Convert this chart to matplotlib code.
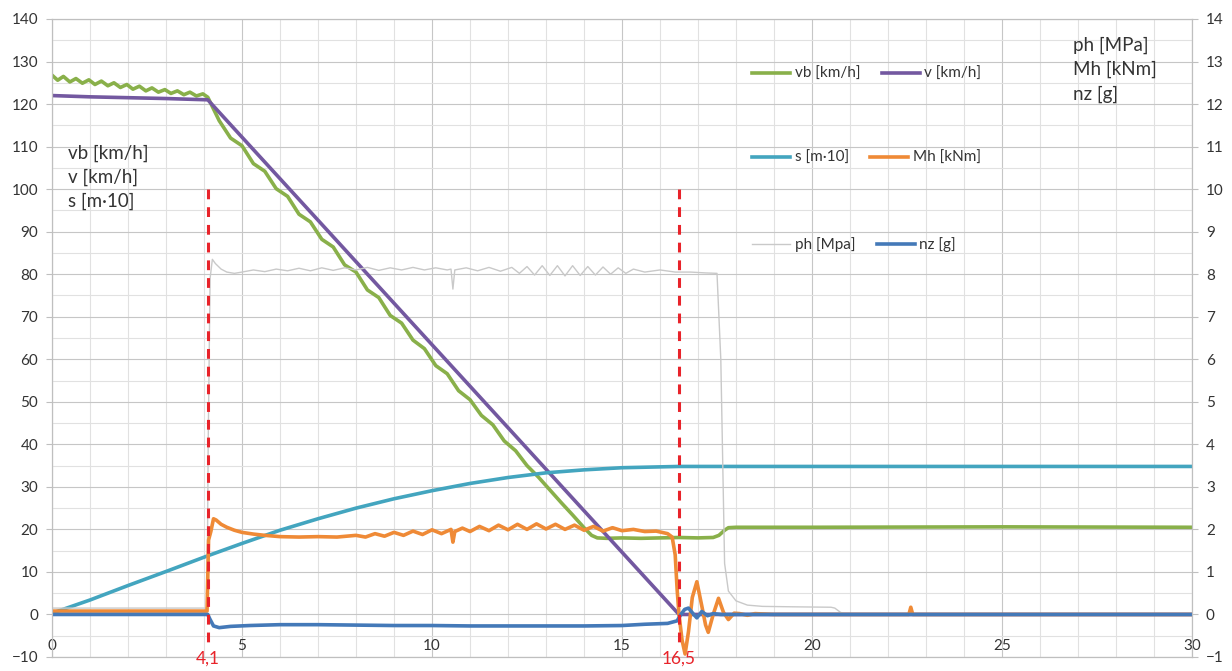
import matplotlib
matplotlib.use("Agg")
import matplotlib.pyplot as plt
from matplotlib.lines import Line2D
from matplotlib.transforms import blended_transform_factory

plt.rcParams['font.family'] = ['Lato', 'DejaVu Sans']

# --- data ---
# left axis: vb [km/h], v [km/h], s [m*10]
vb_t = [0.00, 0.15, 0.30, 0.47, 0.63, 0.80, 0.97, 1.13, 1.30, 1.47, 1.63, 1.80, 1.97,
        2.13, 2.30, 2.47, 2.63, 2.80, 2.97, 3.13, 3.30, 3.47, 3.63, 3.80, 3.97, 4.10,
        4.4, 4.7, 5.0, 5.3, 5.6, 5.9, 6.2, 6.5, 6.8, 7.1, 7.4, 7.7, 8.0, 8.3, 8.6, 8.9,
        9.2, 9.5, 9.8, 10.1, 10.4, 10.7, 11.0, 11.3, 11.6, 11.9, 12.2, 12.5, 12.8, 13.1,
        13.4, 13.7, 14.0, 14.2, 14.35, 14.6, 15.0, 15.5, 16.0, 16.5, 17.0, 17.4, 17.55,
        17.7, 17.8, 18.0, 20.0, 25.0, 30.0]
vb_v = [126.8, 125.6, 126.5, 125.2, 126.0, 124.9, 125.7, 124.6, 125.4, 124.3, 125.0, 123.9, 124.6,
        123.5, 124.2, 123.1, 123.8, 122.8, 123.4, 122.5, 123.1, 122.2, 122.8, 121.9, 122.4, 121.6,
        116.1, 112.0, 110.2, 106.0, 104.2, 100.1, 98.3, 94.1, 92.3, 88.2, 86.4, 82.2, 80.5, 76.3, 74.5, 70.3,
        68.5, 64.5, 62.5, 58.5, 56.6, 52.6, 50.5, 46.8, 44.6, 40.8, 38.5, 35.0, 32.3, 29.3,
        26.3, 23.4, 20.4, 18.6, 18.0, 17.9, 18.0, 17.9, 18.0, 18.1, 18.0, 18.1, 18.6,
        19.8, 20.4, 20.5, 20.5, 20.6, 20.5]

v_t = [0, 1, 2, 3, 4.1, 16.5, 30]
v_v = [122.0, 121.7, 121.5, 121.3, 121.0, 0.0, 0.0]

s_t = [0, 1, 2, 3, 4.1, 5, 6, 7, 8, 9, 10, 11, 12, 13, 14, 15, 16, 16.5, 30]
s_v = [0.3, 3.4, 6.8, 10.1, 13.8, 16.7, 19.8, 22.5, 25.0, 27.2, 29.1, 30.8, 32.2,
       33.3, 34.0, 34.5, 34.7, 34.8, 34.8]

# right axis: ph [MPa], Mh [kNm], nz [g]
ph_t = [0, 4.08, 4.11, 4.16, 4.22, 4.3, 4.45, 4.6, 4.8, 5.0, 5.3, 5.6, 5.9, 6.2, 6.5, 6.8,
        7.1, 7.4, 7.7, 8.0, 8.3, 8.6, 8.9, 9.2, 9.5, 9.8, 10.1, 10.4, 10.5, 10.55, 10.6,
        10.9, 11.2, 11.5, 11.8, 12.1, 12.3, 12.5, 12.7, 12.9, 13.1, 13.3, 13.5, 13.7, 13.9,
        14.1, 14.3, 14.5, 14.7, 14.9, 15.1, 15.3, 15.6, 16.0, 16.4, 16.8, 17.2, 17.5, 17.6,
        17.7, 17.8, 18.0, 18.3, 18.7, 19.5, 20.5, 20.6, 20.75, 20.9, 30]
ph_v = [0.15, 0.15, 4.0, 7.9, 8.35, 8.25, 8.12, 8.05, 8.02, 8.05, 8.1, 8.06, 8.12, 8.08, 8.14, 8.08,
        8.15, 8.09, 8.15, 8.1, 8.16, 8.09, 8.15, 8.1, 8.16, 8.1, 8.15, 8.1, 8.12, 7.65, 8.1,
        8.15, 8.08, 8.16, 8.07, 8.16, 8.02, 8.18, 7.98, 8.2, 7.97, 8.2, 7.96, 8.2, 7.97,
        8.18, 7.98, 8.17, 8.0, 8.15, 8.02, 8.12, 8.05, 8.1, 8.05, 8.05, 8.03, 8.02, 6.0,
        1.2, 0.55, 0.32, 0.22, 0.19, 0.18, 0.17, 0.15, 0.05, 0.0, 0.0]

mh_t = [0, 4.08, 4.12, 4.18, 4.25, 4.32, 4.45, 4.6, 4.8, 5.0, 5.3, 5.6, 6.0, 6.5, 7.0, 7.5,
        8.0, 8.25, 8.5, 8.75, 9.0, 9.25, 9.5, 9.75, 10.0, 10.25, 10.5, 10.55, 10.6, 10.8,
        11.0, 11.25, 11.5, 11.75, 12.0, 12.25, 12.5, 12.75, 13.0, 13.25, 13.5, 13.75, 14.0,
        14.25, 14.5, 14.75, 15.0, 15.3, 15.6, 15.9, 16.2, 16.32, 16.4, 16.45, 16.5, 16.58,
        16.66, 16.75, 16.85, 16.97, 17.1, 17.2, 17.27, 17.4, 17.54, 17.67, 17.8, 17.95,
        18.1, 18.3, 18.5, 19.0, 22.55, 22.6, 22.65, 30]
mh_v = [0.08, 0.08, 1.75, 1.95, 2.25, 2.22, 2.12, 2.05, 1.98, 1.93, 1.89, 1.86, 1.83, 1.82, 1.83, 1.82,
        1.86, 1.82, 1.9, 1.84, 1.93, 1.86, 1.96, 1.88, 1.99, 1.9, 2.0, 1.7, 1.95, 2.03,
        1.95, 2.07, 1.97, 2.1, 1.99, 2.12, 2.0, 2.13, 2.01, 2.12, 2.0, 2.1, 1.98,
        2.07, 1.96, 2.04, 1.97, 2.0, 1.95, 1.96, 1.9, 1.82, 1.4, 0.6, 0.0, -0.6,
        -0.93, -0.4, 0.4, 0.77, 0.2, -0.25, -0.42, 0.0, 0.38, 0.05, -0.12, 0.03,
        0.02, -0.02, 0.02, 0.0, 0.0, 0.17, 0.0, 0.0]

nz_t = [0, 4.1, 4.15, 4.25, 4.4, 4.7, 5.2, 6.0, 7.0, 8.0, 9.0, 10.0, 11.0, 12.0, 13.0, 14.0,
        15.0, 15.6, 16.2, 16.45, 16.55, 16.65, 16.75, 16.87, 16.97, 17.1, 17.25, 17.4, 17.6, 30]
nz_v = [0.0, 0.0, -0.1, -0.27, -0.31, -0.28, -0.26, -0.24, -0.24, -0.25, -0.26, -0.26, -0.27, -0.27,
        -0.27, -0.27, -0.26, -0.23, -0.21, -0.15, 0.0, 0.12, 0.15, 0.02, -0.08, 0.07, -0.03, 0.02, 0.0, 0.0]

marks = [4.1, 16.5]
mark_labels = ["4,1", "16,5"]

green = '#89b04a'
purple = '#7358a0'
teal = '#43a5bf'
orange = '#ef8a36'
blue = '#4479b8'
grey = '#c9c9c9'
red = '#e8232a'
txt = '#333333'

fig = plt.figure(figsize=(12.32, 6.71), dpi=100)
ax = fig.add_axes([52 / 1232, 14 / 671, 1140 / 1232, 638 / 671])
ax2 = ax.twinx()

ax.set_xlim(0, 30)
ax.set_ylim(-10, 140)
ax2.set_ylim(-1, 14)

ax.set_xticks(range(0, 31, 5))
ax.set_xticks(range(0, 31), minor=True)
ax.set_yticks(range(-10, 141, 10))
ax.set_yticks(range(-10, 141, 5), minor=True)
ax2.set_yticks(range(-1, 15))

ax.grid(which='minor', color='#e1e1e1', lw=0.8)
ax.grid(which='major', color='#c6c6c6', lw=0.8)
ax.set_axisbelow(True)

for a in (ax, ax2):
    for sp in a.spines.values():
        sp.set_color('#bfbfbf')
ax.tick_params(axis='x', which='both', length=0, pad=-13, labelsize=11, labelcolor=txt)
ax.tick_params(axis='y', which='minor', length=0)
ax.tick_params(axis='y', which='major', length=4, color='#bfbfbf', labelsize=11, labelcolor=txt, pad=6)
ax2.tick_params(axis='y', length=4, color='#bfbfbf', labelsize=11, labelcolor=txt, pad=6)

lw = 2.6
ax.plot(vb_t, vb_v, color=green, lw=lw, label='vb [km/h]')
ax.plot(v_t, v_v, color=purple, lw=lw, label='v [km/h]')
ax.plot(s_t, s_v, color=teal, lw=lw, label='s [m·10]')
ax2.plot(ph_t, ph_v, color=grey, lw=1.0, label='ph [Mpa]')
ax2.plot(mh_t, mh_v, color=orange, lw=lw, label='Mh [kNm]')
ax2.plot(nz_t, nz_v, color=blue, lw=lw, label='nz [g]')

# red markers
trans = blended_transform_factory(ax2.transData, ax2.transAxes)
for m, lab in zip(marks, mark_labels):
    ax2.plot([m, m], [10.0, -0.72], color=red, lw=2.2, ls=(0, (3.2, 2.6)), zorder=10, clip_on=False)
    ax2.text(m, -0.003, lab, transform=trans, color=red, fontsize=12.5,
             ha='center', va='center', clip_on=False)

# axis unit notes
for y, s in zip([108.5, 102.8, 97.2], ['vb [km/h]', 'v [km/h]', 's [m·10]']):
    ax.text(0.42, y, s, fontsize=13.5, color=txt, va='center', ha='left')
for y, s in zip([133.9, 128.2, 122.4], ['ph [MPa]', 'Mh [kNm]', 'nz [g]']):
    ax.text(26.87, y, s, fontsize=13.5, color=txt, va='center', ha='left')

# legend in three rows
rows = [(74, [('vb [km/h]', green, lw), ('v [km/h]', purple, lw)]),
        (158, [('s [m·10]', teal, lw), ('Mh [kNm]', orange, lw)]),
        (245, [('ph [Mpa]', grey, 1.0), ('nz [g]', blue, lw)])]
for ypx, entries in rows:
    handles = [Line2D([], [], color=c, lw=w) for _, c, w in entries]
    labels = [n for n, _, _ in entries]
    fig.legend(handles, labels, loc='center left', ncol=2, frameon=False,
               bbox_to_anchor=(752 / 1232, 1 - ypx / 671), borderaxespad=0, borderpad=0,
               handlelength=2.5, handletextpad=0.3, columnspacing=1.4,
               fontsize=11, labelcolor=txt)

fig.savefig('out.png', dpi=100)
